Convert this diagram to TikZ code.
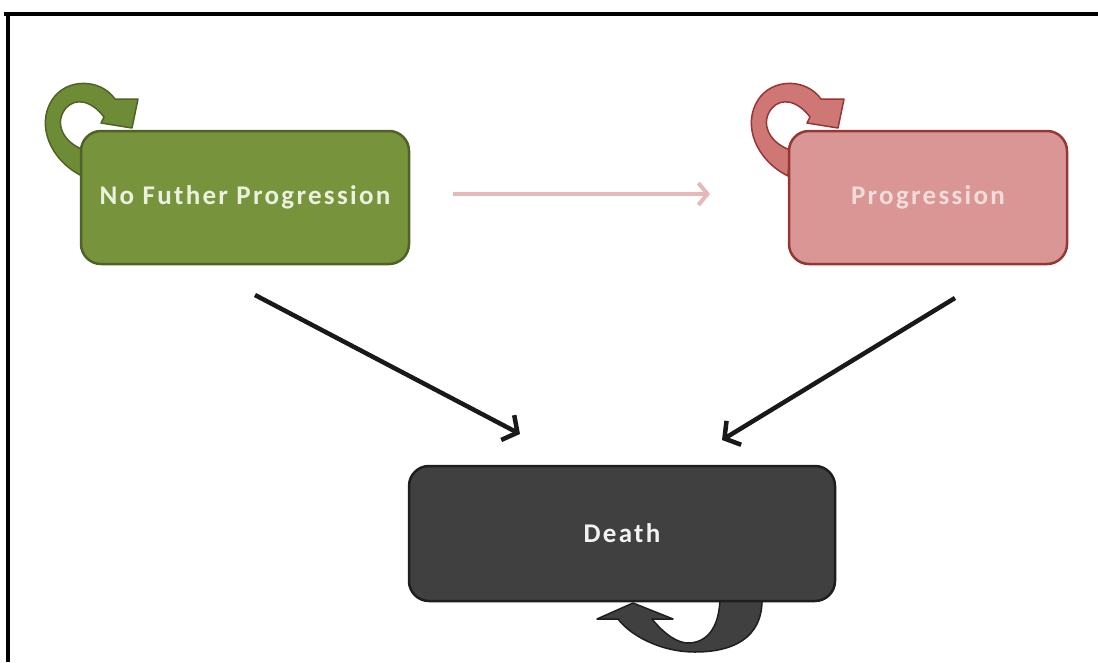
\documentclass[tikz,border=0pt]{standalone}
\usepackage{fontspec}
\setmainfont{Carlito}
\newfontfamily\labelfont[LetterSpace=8.5]{Carlito}
\usetikzlibrary{arrows.meta}
\definecolor{gfill}{HTML}{77933C}
\definecolor{gline}{HTML}{4F6228}
\definecolor{gtext}{HTML}{EBF1DE}
\definecolor{gloop}{HTML}{6E8B35}
\definecolor{pfill}{HTML}{DA9694}
\definecolor{pline}{HTML}{953735}
\definecolor{ptext}{HTML}{F2DCDB}
\definecolor{ploop}{HTML}{CF7775}
\definecolor{dfill}{HTML}{404040}
\definecolor{dline}{HTML}{1E1E1E}
\definecolor{dtext}{HTML}{F2F2F2}
\definecolor{parrow}{HTML}{E6B9B8}
\begin{document}
\begin{tikzpicture}[x=1pt,y=1pt,
  statebox/.style={rounded corners=20pt, line width=2.5pt, inner sep=0pt,
    font=\labelfont\bfseries\fontsize{27}{30}\selectfont},
  greenbox/.style={statebox, fill=gfill, draw=gline, text=gtext},
  pinkbox/.style={statebox, fill=pfill, draw=pline, text=ptext},
  deathbox/.style={statebox, fill=dfill, draw=dline, text=dtext},
  gloopsty/.style={fill=gloop, draw=gline, line width=1.5pt, line join=round},
  ploopsty/.style={fill=ploop, draw=pline, line width=1.5pt, line join=round},
  dloopsty/.style={fill=dfill, draw=dline, line width=1.5pt, line join=round},
  blackarrow/.style={line width=4.5pt, draw=black!90, -{Straight Barb[length=11pt,width=28pt]}},
  pinkarrow/.style={line width=4pt, draw=parrow, -{Straight Barb[length=9pt,width=22pt]}},
  frameline/.style={line width=4pt, draw=black}
]
\useasboundingbox (0,0) rectangle (1098,-662);
\fill[white] (0,0) rectangle (1098,-662);
% frame
\draw[frameline] (4,-14) -- (1098,-14);
\draw[frameline] (8,-12) -- (8,-662);

% self loops (drawn under boxes)
\path[gloopsty] (82,-176) .. controls (50,-160) and (36,-125) .. (52,-100)
  .. controls (66,-78) and (100,-78) .. (115,-99) -- (138,-99) -- (132,-128)
  -- (101,-123) -- (104,-117) .. controls (92,-101) and (76,-97) .. (66,-108)
  .. controls (54,-122) and (62,-142) .. (84,-150) -- cycle;
\begin{scope}[shift={(706,0)}]
\path[ploopsty] (82,-176) .. controls (50,-160) and (36,-125) .. (52,-100)
  .. controls (66,-78) and (100,-78) .. (115,-99) -- (138,-99) -- (132,-128)
  -- (101,-123) -- (104,-117) .. controls (92,-101) and (76,-97) .. (66,-108)
  .. controls (54,-122) and (62,-142) .. (84,-150) -- cycle;
\end{scope}
\path[dloopsty] (762,-596) .. controls (764,-640) and (730,-652) .. (695,-652)
  .. controls (660,-652) and (630,-635) .. (618,-619) -- (597,-619) -- (633,-603)
  -- (673,-619) -- (652,-619) .. controls (665,-635) and (678,-643) .. (688,-643)
  .. controls (705,-643) and (720,-630) .. (720,-596) -- cycle;

% states
\node[greenbox, minimum width=328pt, minimum height=133pt] (nfp) at (245,-197.5) {No Futher Progression};
\node[pinkbox, minimum width=278pt, minimum height=133pt] (prog) at (928,-197.5) {Progression};
\node[deathbox, minimum width=426pt, minimum height=135pt] (death) at (622,-533.5) {Death};

% connector end points
\coordinate (a1s) at (255,-295);
\coordinate (a1e) at (520,-434);
\coordinate (a2s) at (955,-298);
\coordinate (a2e) at (722,-440);
\coordinate (a3s) at (453,-194);
\coordinate (a3e) at (710,-194);

\draw[pinkarrow] (a3s) -- (a3e);
\draw[blackarrow] (a1s) -- (a1e);
\draw[blackarrow] (a2s) -- (a2e);
\end{tikzpicture}
\end{document}
